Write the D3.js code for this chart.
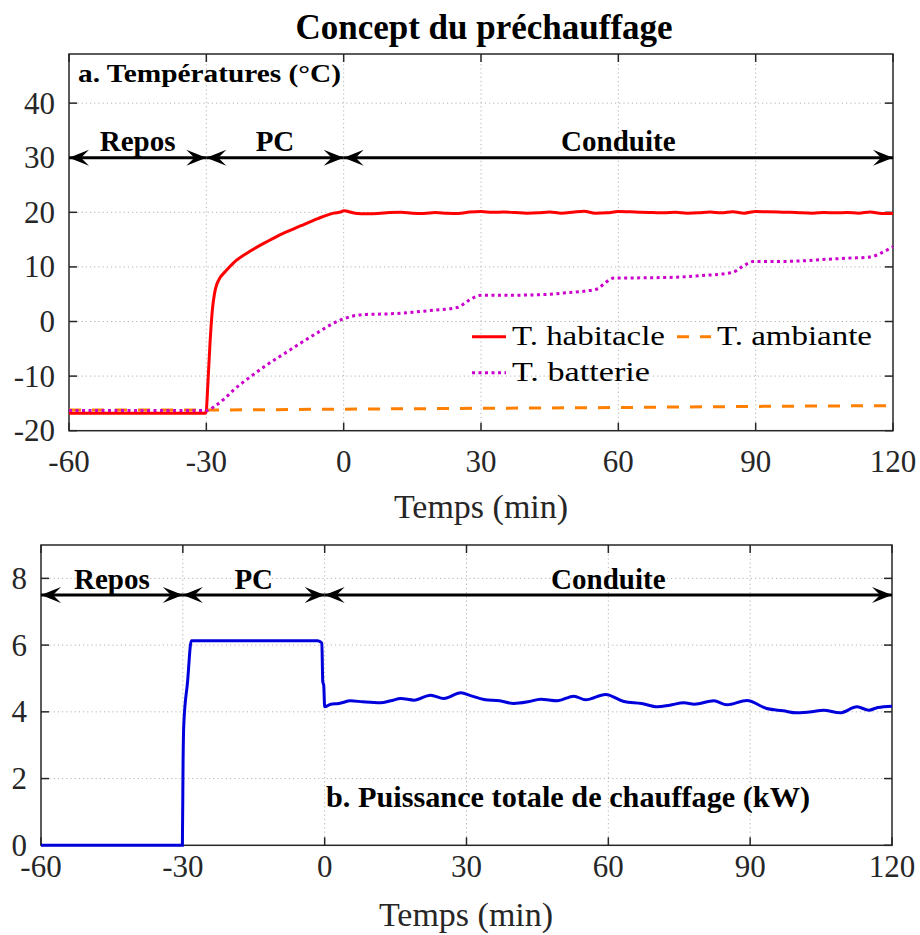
<!DOCTYPE html>
<html>
<head>
<meta charset="utf-8">
<script src="https://cdn.jsdelivr.net/npm/d3@7"></script>
<title>Concept du préchauffage</title>
<style>
    body { margin: 0; background: #fff; }
    text { font-family: "Liberation Serif", "Times New Roman", serif; fill: #262626; }
    .bold { font-weight: bold; fill: #000; }
</style>
</head>
<body>
<svg width="920" height="935"></svg>
<script>
// --- data ---
const xTicks = [-60, -30, 0, 30, 60, 90, 120];
const tempTicks = [-20, -10, 0, 10, 20, 30, 40];
const powerTicks = [0, 2, 4, 6, 8];
const phases = [-60, -30, 0, 120];
const phaseLabels = ["Repos", "PC", "Conduite"];

const habT = [-60, -30.2, -30, -29.7, -29.2, -28.7, -28.2, -27.8, -27.3, -25.8, -24, -20.4, -16.7, -13.1, -9.45, -5.8, -2.2, -0.5, 0,
    2.5, 5, 7.5, 10, 12.5, 15, 17.5, 20, 22.5, 25, 27.5, 30, 32.5, 35, 37.5, 40, 42.5, 45, 47.5, 50,
    52.5, 55, 57.5, 60, 62.5, 65, 67.5, 70, 72.5, 75, 77.5, 80, 82.5, 85, 87.5, 90, 92.5, 95, 97.5, 100,
    102.5, 105, 107.5, 110, 112.5, 115, 117.5, 120];
const habV = [-16.8, -16.8, -16.3, -12, -4, 2, 5.2, 6.6, 7.6, 9.2, 10.8, 12.9, 14.65, 16.2, 17.5, 18.8, 19.85, 20.1, 20.3,
    19.85, 19.75, 19.8, 19.95, 20.0, 19.85, 19.8, 19.95, 19.85, 19.8, 20.05, 20.15, 20.0, 20.05, 19.95, 19.85, 19.9, 20.05, 19.85, 20.0,
    20.2, 19.85, 19.9, 20.15, 20.1, 20.0, 19.95, 19.9, 20.0, 19.85, 19.9, 20.05, 19.9, 20.1, 19.85, 20.15, 20.1, 20.05, 20.0, 19.9,
    19.85, 19.95, 19.9, 19.95, 19.85, 20.05, 19.8, 19.8];

const ambT = [-60, -30, 0, 30, 60, 90, 120];
const ambV = [-16.2, -16.2, -16.05, -15.9, -15.75, -15.55, -15.4];

const batT = [-60, -30, -28, -26, -24, -20, -16.7, -13, -9.5, -6, -2.2, 0, 2, 5, 10, 15, 20, 25, 26.5, 28, 30,
    35, 40, 45, 49, 53, 55.5, 57, 59, 65, 72, 78, 85, 87, 89.5, 95, 100, 105.5, 110, 115, 118, 120];
const batV = [-16.3, -16.3, -15.4, -14.1, -12.5, -9.9, -7.9, -5.9, -4.0, -2.2, -0.3, 0.5, 1.0, 1.3, 1.4, 1.7, 2.1, 2.6, 3.4, 4.2, 4.8,
    4.8, 4.85, 5.0, 5.3, 5.6, 6.0, 7.0, 7.95, 8.0, 8.1, 8.4, 9.0, 10.0, 11.0, 11.0, 11.1, 11.4, 11.6, 11.8, 12.8, 13.7];

const powT = [-60, -30.1, -29.95, -29.8, -29, -28.2, -10, -1.5, -0.6, -0.4, -0.2, 0, 1.3, 3, 5.5, 8, 11.8, 14, 16.1, 18.9,
    22.4, 25.2, 28.8, 31, 33.7, 37, 40, 43, 45.7, 49.2, 52.7, 55.2, 59.4, 63.3, 67, 70.4, 73, 76, 78.2, 82.3,
    85.1, 89.3, 93.5, 97, 99.9, 103, 105.5, 109, 112.6, 115.1, 117, 120];
const powV = [0, 0, 2.5, 3.6, 4.9, 6.13, 6.13, 6.13, 6.06, 4.9, 4.8, 4.15, 4.23, 4.25, 4.33, 4.3, 4.27, 4.33, 4.4, 4.35,
    4.5, 4.4, 4.57, 4.48, 4.37, 4.33, 4.25, 4.3, 4.38, 4.33, 4.47, 4.36, 4.52, 4.31, 4.25, 4.15, 4.2, 4.27, 4.23, 4.33,
    4.21, 4.34, 4.1, 4.03, 3.97, 4.0, 4.05, 3.97, 4.15, 4.05, 4.13, 4.17];

const zip = (ts, vs) => ts.map((t, i) => [t, vs[i]]);

const svg = d3.select("svg");

// frame, grid, ticks, tick labels
function drawAxes(x, y, yTicks, xLabelY) {
    const [x0, x1] = x.range();
    const [y0, y1] = y.range();
    const g = svg.append("g");

    g.selectAll(".gx").data(xTicks.slice(1, -1)).enter().append("line")
        .attr("x1", d => x(d)).attr("x2", d => x(d))
        .attr("y1", y0).attr("y2", y1)
        .attr("stroke", "#b3b3b3").attr("stroke-width", 1).attr("stroke-dasharray", "1.2,3");
    g.selectAll(".gy").data(yTicks.filter(d => y(d) < y0 - 1)).enter().append("line")
        .attr("x1", x0).attr("x2", x1)
        .attr("y1", d => y(d)).attr("y2", d => y(d))
        .attr("stroke", "#b3b3b3").attr("stroke-width", 1).attr("stroke-dasharray", "1.2,3");

    const tl = 8;
    xTicks.forEach(t => {
        g.append("line").attr("x1", x(t)).attr("x2", x(t)).attr("y1", y0).attr("y2", y0 - tl)
            .attr("stroke", "#262626").attr("stroke-width", 1.5);
        g.append("line").attr("x1", x(t)).attr("x2", x(t)).attr("y1", y1).attr("y2", y1 + tl)
            .attr("stroke", "#262626").attr("stroke-width", 1.5);
    });
    yTicks.forEach(t => {
        g.append("line").attr("x1", x0).attr("x2", x0 + tl).attr("y1", y(t)).attr("y2", y(t))
            .attr("stroke", "#262626").attr("stroke-width", 1.5);
        g.append("line").attr("x1", x1).attr("x2", x1 - tl).attr("y1", y(t)).attr("y2", y(t))
            .attr("stroke", "#262626").attr("stroke-width", 1.5);
    });

    g.append("rect").attr("x", x0).attr("y", y1).attr("width", x1 - x0).attr("height", y0 - y1)
        .attr("fill", "none").attr("stroke", "#262626").attr("stroke-width", 1.5);

    g.selectAll(".xl").data(xTicks).enter().append("text")
        .attr("x", d => x(d)).attr("y", xLabelY)
        .attr("text-anchor", "middle").attr("font-size", 31)
        .text(d => d);
    g.selectAll(".yl").data(yTicks).enter().append("text")
        .attr("x", x0 - 14).attr("y", d => y(d) + 10.5)
        .attr("text-anchor", "end").attr("font-size", 31)
        .text(d => d);
}

function arrowHead(g, xt, yv, dir) {
    const L = 20, W = 8;
    g.append("path")
        .attr("d", `M${xt},${yv} L${xt + dir * L},${yv - W} L${xt + dir * L * 0.6},${yv} L${xt + dir * L},${yv + W} Z`)
        .attr("fill", "#000");
}

function drawPhases(x, y, level) {
    const g = svg.append("g");
    const yy = y(level);
    phases.slice(0, -1).forEach((p, i) => {
        const a = x(p), b = x(phases[i + 1]);
        g.append("line").attr("x1", a).attr("x2", b).attr("y1", yy).attr("y2", yy)
            .attr("stroke", "#000").attr("stroke-width", 3);
        arrowHead(g, a, yy, 1);
        arrowHead(g, b, yy, -1);
        g.append("text").attr("class", "bold")
            .attr("x", (a + b) / 2).attr("y", yy - 6.5)
            .attr("text-anchor", "middle").attr("font-size", 29)
            .text(phaseLabels[i]);
    });
}

// --- title ---
svg.append("text").attr("class", "bold")
    .attr("x", 484).attr("y", 39).attr("text-anchor", "middle").attr("font-size", 35)
    .text("Concept du préchauffage");

// --- panel a ---
const xa = d3.scaleLinear().domain([-60, 120]).range([69, 893]);
const ya = d3.scaleLinear().domain([-20, 49]).range([430.7, 54]);
drawAxes(xa, ya, tempTicks, 472);

const lineA = d3.line().x(d => xa(d[0])).y(d => ya(d[1])).curve(d3.curveMonotoneX);
svg.append("path").datum(zip(habT, habV)).attr("d", lineA)
    .attr("fill", "none").attr("stroke", "#ff0000").attr("stroke-width", 3);
svg.append("path").datum(zip(ambT, ambV)).attr("d", lineA)
    .attr("fill", "none").attr("stroke", "#ff8000").attr("stroke-width", 3).attr("stroke-dasharray", "12,11");
svg.append("path").datum(zip(batT, batV)).attr("d", lineA)
    .attr("fill", "none").attr("stroke", "#cc00cc").attr("stroke-width", 3).attr("stroke-dasharray", "3,3.5");

drawPhases(xa, ya, 30);

svg.append("text").attr("class", "bold")
    .attr("x", 78).attr("y", 81.7).attr("font-size", 25)
    .attr("textLength", 263).attr("lengthAdjust", "spacingAndGlyphs")
    .text("a. Températures (°C)");

// legend
const legend = svg.append("g");
const legItems = [
    { label: "T. habitacle", color: "#ff0000", dash: null, x: 472, y: 336.7, len: 153 },
    { label: "T. ambiante", color: "#ff8000", dash: "12,11", x: 677, y: 336.7, len: 155 },
    { label: "T. batterie", color: "#cc00cc", dash: "3,3.5", x: 472, y: 372.7, len: 138 }
];
legItems.forEach(it => {
    legend.append("line").attr("x1", it.x).attr("x2", it.x + 34).attr("y1", it.y).attr("y2", it.y)
        .attr("stroke", it.color).attr("stroke-width", 3).attr("stroke-dasharray", it.dash);
    legend.append("text").attr("x", it.x + 40).attr("y", it.y + 8).attr("font-size", 27)
        .attr("textLength", it.len).attr("lengthAdjust", "spacingAndGlyphs")
        .style("fill", "#000")
        .text(it.label);
});

svg.append("text").attr("x", 481).attr("y", 518).attr("text-anchor", "middle").attr("font-size", 34)
    .text("Temps (min)");

// --- panel b ---
const xb = d3.scaleLinear().domain([-60, 120]).range([41, 892]);
const yb = d3.scaleLinear().domain([0, 9]).range([845.3, 545]);
drawAxes(xb, yb, powerTicks, 877);

const lineB = d3.line().x(d => xb(d[0])).y(d => yb(d[1])).curve(d3.curveMonotoneX);
svg.append("path").datum(zip(powT, powV)).attr("d", lineB)
    .attr("fill", "none").attr("stroke", "#0000dd").attr("stroke-width", 3);

drawPhases(xb, yb, 7.5);

svg.append("text").attr("class", "bold")
    .attr("x", 326).attr("y", 806.5).attr("font-size", 29.5)
    .attr("textLength", 484).attr("lengthAdjust", "spacingAndGlyphs")
    .text("b. Puissance totale de chauffage (kW)");

svg.append("text").attr("x", 466).attr("y", 926).attr("text-anchor", "middle").attr("font-size", 34)
    .text("Temps (min)");
</script>
</body>
</html>
